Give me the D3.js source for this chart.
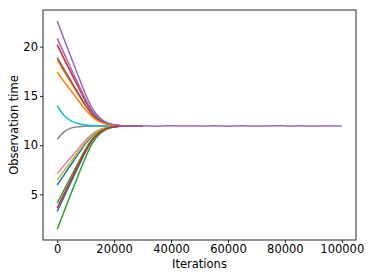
<!DOCTYPE html>
<html>
<head>
    <script src="https://d3js.org/d3.v7.min.js"></script>
    <style>
        body {margin: 0; background: white; font-family: "DejaVu Sans", sans-serif;}
        .line { fill: none; stroke-width: 1.5px; }
        .axis path, .axis line { stroke: #262626; }
        .axis text { font-size: 11.5px; fill: black; font-family: "DejaVu Sans", sans-serif; }
    </style>
</head>
<body>
    <svg width="374" height="280"></svg>
    <script>
        // iterations sampled during the transient phase
        let headIters = [0, 2500, 5000, 7500, 10000, 12500, 15000, 17500, 20000, 22500];
        // settled phase, shared by all runs (from 25000 to 100000 every 2500)
        let tailValues = [11.95, 11.94, 11.96, 11.95, 11.93, 11.95, 11.97, 11.95, 11.94, 11.96,
                          11.95, 11.94, 11.96, 11.95, 11.93, 11.95, 11.96, 11.94, 11.95, 11.94,
                          11.96, 11.97, 11.95, 11.94, 11.96, 11.95, 11.94, 11.95, 11.96, 11.94, 11.95];

        // one array per run, in plotting order
        let run0  = [5.95, 7.03, 8.08, 9.13, 10.15, 10.99, 11.50, 11.77, 11.89, 11.93];
        let run1  = [18.65, 17.44, 16.27, 15.10, 13.96, 13.02, 12.45, 12.15, 12.02, 11.97];
        let run2  = [4.10, 5.51, 6.89, 8.26, 9.60, 10.69, 11.36, 11.71, 11.87, 11.93];
        let run3  = [20.2, 18.72, 17.27, 15.83, 14.43, 13.27, 12.57, 12.20, 12.03, 11.97];
        let run4  = [20.85, 19.25, 17.69, 16.13, 14.62, 13.37, 12.62, 12.22, 12.04, 11.98];
        let run5  = [18.9, 17.65, 16.43, 15.22, 14.04, 13.06, 12.47, 12.16, 12.02, 11.97];
        let run6  = [7.10, 7.97, 8.82, 9.67, 10.50, 11.17, 11.59, 11.80, 11.90, 11.94];
        let run7  = [10.6, 11.38, 11.75, 11.87, 11.92, 11.94, 11.95, 11.95, 11.95, 11.95];
        let run8  = [6.45, 7.44, 8.40, 9.37, 10.30, 11.07, 11.54, 11.79, 11.90, 11.93];
        let run9  = [14.0, 12.98, 12.44, 12.18, 12.05, 11.99, 11.96, 11.95, 11.95, 11.95];
        let run10 = [3.25, 4.82, 6.34, 7.86, 9.34, 10.56, 11.30, 11.69, 11.86, 11.92];
        let run11 = [17.4, 16.42, 15.47, 14.51, 13.59, 12.82, 12.36, 12.11, 12.00, 11.97];
        let run12 = [1.45, 3.34, 5.18, 7.02, 8.80, 10.27, 11.16, 11.64, 11.85, 11.92];
        let run13 = [3.60, 5.10, 6.56, 8.03, 9.45, 10.61, 11.32, 11.70, 11.87, 11.92];
        let run14 = [22.6, 20.68, 18.82, 16.95, 15.15, 13.65, 12.75, 12.27, 12.06, 11.98];
        let runs = [run0, run1, run2, run3, run4, run5, run6, run7, run8, run9, run10, run11, run12, run13, run14];

        let xTicks = [0, 20000, 40000, 60000, 80000, 100000];
        let yTicks = [5, 10, 15, 20];

        let margin = {left: 43, right: 18, top: 10, bottom: 40};
        let width = 374, height = 280;
        let svg = d3.select("svg");

        let x = d3.scaleLinear().domain([-5000, 105000]).range([margin.left, width - margin.right]);
        let y = d3.scaleLinear().domain([0.36, 23.73]).range([height - margin.bottom, margin.top]);
        let color = d3.scaleOrdinal(d3.schemeCategory10);

        let tailIters = tailValues.map((v, i) => 25000 + i * 2500);
        let line = d3.line()
            .x(d => x(d[0]))
            .y(d => y(d[1]))
            .curve(d3.curveMonotoneX);

        // runs overlap completely once settled, so only the last one carries the tail
        runs.forEach((r, i) => {
            let pts = headIters.map((t, k) => [t, r[k]]);
            let tail = tailIters.map((t, k) => [t, tailValues[k]]);
            pts = pts.concat(i == runs.length - 1 ? tail : tail.slice(0, 3));
            svg.append("path")
                .attr("class", "line")
                .attr("stroke", color(i))
                .attr("d", line(pts));
        });

        // frame
        svg.append("rect")
            .attr("x", margin.left).attr("y", margin.top)
            .attr("width", width - margin.right - margin.left)
            .attr("height", height - margin.bottom - margin.top)
            .attr("fill", "none").attr("stroke", "#262626").attr("stroke-width", 1);

        svg.append("g")
            .attr("class", "axis")
            .attr("transform", `translate(0,${height - margin.bottom})`)
            .call(d3.axisBottom(x).tickValues(xTicks).tickFormat(d3.format("d")).tickSize(3).tickPadding(2))
            .call(g => g.select(".domain").remove());

        svg.append("g")
            .attr("class", "axis")
            .attr("transform", `translate(${margin.left},0)`)
            .call(d3.axisLeft(y).tickValues(yTicks).tickSize(3).tickPadding(2))
            .call(g => g.select(".domain").remove());

        svg.append("text")
            .attr("x", (margin.left + width - margin.right) / 2)
            .attr("y", 268)
            .attr("text-anchor", "middle")
            .style("font-size", "11.5px")
            .text("Iterations");

        svg.append("text")
            .attr("transform", "translate(18,125) rotate(-90)")
            .attr("text-anchor", "middle")
            .style("font-size", "11.5px")
            .text("Observation time");
    </script>
</body>
</html>
